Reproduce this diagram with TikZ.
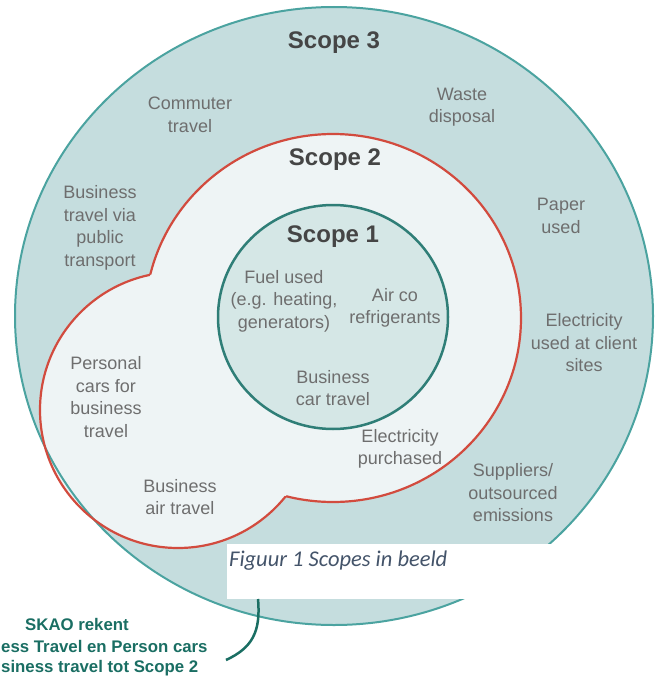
\documentclass[tikz,border=0pt]{standalone}
\usepackage{fontspec}
\setmainfont{Liberation Sans}
\newfontfamily\capfont{Carlito}
\usepackage{tikz}

\definecolor{sdriefill}{HTML}{C5DDDE}
\definecolor{sdrieline}{HTML}{4BA3A0}
\definecolor{stweefill}{HTML}{EEF4F5}
\definecolor{stweeline}{HTML}{D24B3E}
\definecolor{seenfill}{HTML}{D5E7E6}
\definecolor{seenline}{HTML}{2F7E77}
\definecolor{lblgrey}{HTML}{6E6E6E}
\definecolor{kopgrey}{HTML}{454545}
\definecolor{skaogreen}{HTML}{1A6E63}
\definecolor{capblue}{HTML}{44546A}

\begin{document}
\begin{tikzpicture}[x=1pt,y=-1pt]
			\tikzstyle{every node}=[inner sep=0pt,align=center]
			\tikzstyle{lbl}=[text=lblgrey,font=\fontsize{18}{22.5}\selectfont]
			\tikzstyle{kop}=[text=kopgrey,font=\fontsize{24}{28}\selectfont\bfseries]
			\tikzstyle{skao}=[text=skaogreen,font=\fontsize{16.8}{21}\selectfont\bfseries]
			\useasboundingbox (0,0) rectangle (656,677);
			
			%Scope 3
			\fill[sdriefill] (334,316) ellipse [x radius=319, y radius=309];
			
			%Scope 2
			\fill[stweefill] (333,318) ellipse [x radius=188, y radius=184]
			(178,410) circle (138);
			\draw[sdrieline,line width=2pt] (334,316) ellipse [x radius=319, y radius=309];
			\begin{scope}[even odd rule]
				\clip (0,0) rectangle (656,677) (178,410) circle (138);
				\draw[stweeline,line width=2.2pt] (333,318) ellipse [x radius=188, y radius=184];
			\end{scope}
			\begin{scope}[even odd rule]
				\clip (0,0) rectangle (656,677) (333,318) ellipse [x radius=188, y radius=184];
				\draw[stweeline,line width=2.2pt] (178,410) circle (138);
			\end{scope}
			
			%Scope 1
			\draw[seenline,fill=seenfill,line width=2.5pt] (333,317) ellipse [x radius=115, y radius=112];
			
			%Texte
			\node[kop] (sdrie) at (334,43) {Scope 3};
			\node[kop] (stwee) at (335,160) {Scope 2};
			\node[kop] (seen) at (333,237) {Scope 1};
			\node[lbl] (commute) at (190,115) {Commuter\\travel};
			\node[lbl] (waste) at (462,107) {Waste\\disposal};
			\node[lbl] (pubtrans) at (100,228) {Business\\travel via\\public\\transport};
			\node[lbl] (paper) at (561,216) {Paper\\used};
			\node[lbl] (fuel) at (284,301) {Fuel used\\(e.g. heating,\\generators)};
			\node[lbl] (airco) at (395,308) {Air co\\refrigerants};
			\node[lbl] (elclient) at (584,343) {Electricity\\used at client\\sites};
			\node[lbl] (perscars) at (106,397) {Personal\\cars for\\business\\travel};
			\node[lbl] (bcar) at (333,388) {Business\\car travel};
			\node[lbl] (elpurch) at (400,449) {Electricity\\purchased};
			\node[lbl] (suppl) at (513,493) {Suppliers/\\outsourced\\emissions};
			\node[lbl] (bair) at (180,497) {Business\\air travel};
			
			%Onderschrift
			\node[fill=white,minimum width=333pt,minimum height=55pt,anchor=north west] (capbox) at (227,544) {};
			\node[anchor=west,text=capblue,font=\capfont\itshape\fontsize{22.5}{26}\selectfont] (cap) at (229,561) {Figuur 1 Scopes in beeld};
			
			%SKAO
			\node[skao] (skaoa) at (77,624) {SKAO rekent};
			\node[skao,anchor=west] (skaob) at (1,646) {ess Travel en Person cars};
			\node[skao,anchor=west] (skaoc) at (1,668) {siness travel tot Scope 2};
			\coordinate (ctop) at (258,599);
			\coordinate (cend) at (226,660);
			\draw[skaogreen,line width=2.5pt] (ctop) .. controls (261,632) and (252,648) .. (cend);
			
\end{tikzpicture}
\end{document}
